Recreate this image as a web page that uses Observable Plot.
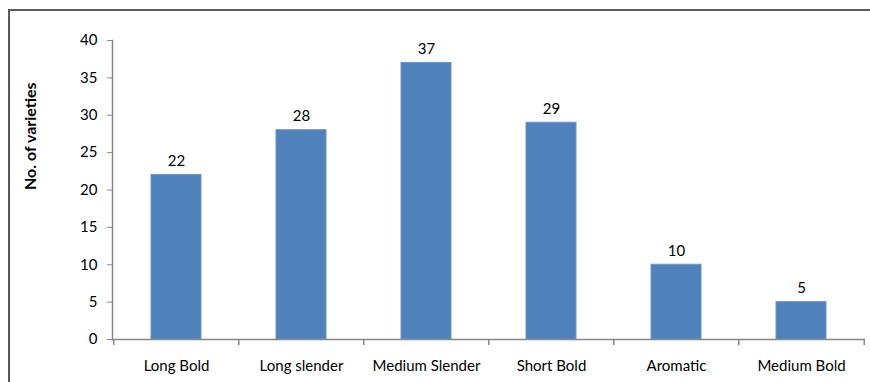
<!DOCTYPE html>
<html>
<head>
<meta charset="utf-8">
<script src="https://cdn.jsdelivr.net/npm/d3@7"></script>
<script src="https://cdn.jsdelivr.net/npm/@observablehq/plot@0.6"></script>
<style>
  html, body { margin: 0; padding: 0; background: #fff; }
  #wrap { position: relative; width: 870px; height: 382px; overflow: hidden; }
  #border { position: absolute; left: 8px; top: 9px; width: 900px; height: 400px;
            border-top: 2px solid #5a5a5a; border-left: 2px solid #5a5a5a; box-sizing: border-box; }
  #chart { position: absolute; left: 0; top: 0; }
</style>
</head>
<body>
<div id="wrap">
  <div id="border"></div>
  <div id="chart"></div>
</div>
<script>
// Grain type categories and number of varieties in each
const categories = ["Long Bold", "Long slender", "Medium Slender", "Short Bold", "Aromatic", "Medium Bold"];
const varieties = [22, 28, 37, 29, 10, 5];
const yTicks = [0, 5, 10, 15, 20, 25, 30, 35, 40];
const yLabel = "No. of varieties";

const data = categories.map((c, i) => ({category: c, count: varieties[i]}));

const W = 870, H = 382;
const mL = 112, mR = 5, mT = 40, mB = 43;
const step = (W - mL - mR) / categories.length;
const axisColor = "#868686";
const fontSize = 15;

const chart = Plot.plot({
  width: W,
  height: H,
  marginLeft: mL,
  marginRight: mR,
  marginTop: mT,
  marginBottom: mB,
  style: {fontFamily: "Lato, 'Open Sans', sans-serif", fontSize: fontSize + "px", color: "#000", background: "transparent"},
  // outer padding = half the inner padding so bands fill the axis evenly
  x: {domain: categories, paddingInner: 0.6, paddingOuter: 0.3, label: null},
  y: {domain: [0, 40], label: null},
  marks: [
    Plot.barY(data, {x: "category", y: "count", fill: "#4F81BD", stroke: "#6d95c6", strokeWidth: 1}),
    Plot.text(data, {x: "category", y: "count", text: d => String(d.count), dy: -14, fontSize, fill: "#000"}),
    // y axis
    Plot.frame({anchor: "left", stroke: axisColor, strokeWidth: 1.5}),
    Plot.axisY({ticks: yTicks, tickSize: 5, tickPadding: 10, stroke: axisColor, fill: "#000", label: null, fontSize}),
    // x axis baseline and category boundary ticks
    Plot.ruleY([0], {stroke: axisColor, strokeWidth: 1.5}),
    Plot.ruleX(categories, {x: d => d, y1: 0, y2: 0, dx: -step / 2, insetBottom: -6, stroke: axisColor, strokeWidth: 1.5}),
    Plot.ruleX(categories.slice(-1), {x: d => d, y1: 0, y2: 0, dx: step / 2, insetBottom: -6, stroke: axisColor, strokeWidth: 1.5}),
    Plot.axisX({tickSize: 0, tickPadding: 21, fill: "#000", label: null, fontSize}),
    Plot.text([yLabel], {frameAnchor: "left", rotate: -90, dx: -82, fontWeight: "bold", fontSize: 16, fill: "#000"})
  ]
});
document.getElementById("chart").appendChild(chart);
</script>
</body>
</html>
